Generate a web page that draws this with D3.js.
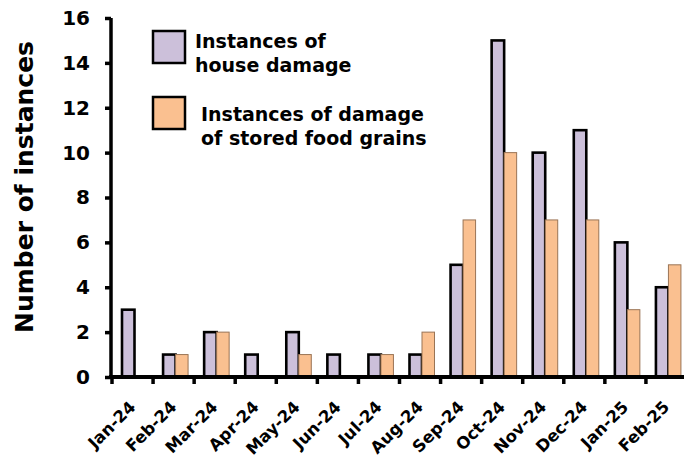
<!DOCTYPE html>
<html>
<head>
<meta charset="utf-8">
<script src="https://cdn.jsdelivr.net/npm/d3@7"></script>
<style>
  body { margin: 0; background: #fff; }
  text { font-family: "DejaVu Sans", Verdana, sans-serif; font-weight: bold; }
</style>
</head>
<body>
<svg id="chart" width="684" height="459"></svg>
<script>
const months = ['Jan-24','Feb-24','Mar-24','Apr-24','May-24','Jun-24','Jul-24','Aug-24',
                'Sep-24','Oct-24','Nov-24','Dec-24','Jan-25','Feb-25'];
const houseDamage = [3, 1, 2, 1, 2, 1, 1, 1, 5, 15, 10, 11, 6, 4];
const grainDamage = [0, 1, 2, 0, 1, 0, 1, 2, 7, 10, 7, 7, 3, 5];
const seriesNames = ['house', 'grain'];
const yTicks = [0, 2, 4, 6, 8, 10, 12, 14, 16];

const svg = d3.select('#chart');
const colors = { house: '#ccc0da', grain: '#fac090' };
const strokes = { house: '#000', grain: '#9a7455' };
const strokeW = { house: 2.6, grain: 1 };

const x = d3.scaleBand().domain(months).range([112, 687]);
const xs = d3.scaleBand().domain(seriesNames).range([10, 35]);
const y = d3.scaleLinear().domain([0, 16]).range([377, 18]);

const rows = months.map((m, i) => ({ month: m, house: houseDamage[i], grain: grainDamage[i] }));

// bars
const g = svg.append('g');
rows.forEach(r => {
  seriesNames.forEach(s => {
    if (r[s] === 0) return;
    g.append('rect')
      .attr('x', x(r.month) + xs(s))
      .attr('y', y(r[s]))
      .attr('width', xs.bandwidth())
      .attr('height', y(0) - y(r[s]))
      .attr('fill', colors[s])
      .attr('stroke', strokes[s])
      .attr('stroke-width', strokeW[s]);
  });
});

// y axis
const yAxis = svg.append('g')
  .attr('transform', 'translate(111,0)')
  .call(d3.axisLeft(y).tickValues(yTicks).tickSize(6).tickSizeOuter(0).tickPadding(15));
yAxis.select('.domain').attr('stroke-width', 3.5).attr('d', `M0,${y(16)}V${y(0) + 2}`);
yAxis.selectAll('.tick line').attr('stroke-width', 3.5);
yAxis.selectAll('.tick text').attr('font-size', 20).attr('fill', '#000');

// x axis line and ticks at category boundaries
svg.append('line')
  .attr('x1', 109).attr('x2', 684)
  .attr('y1', y(0)).attr('y2', y(0))
  .attr('stroke', '#000').attr('stroke-width', 4);
months.forEach(m => {
  const bx = x(m);
  svg.append('line')
    .attr('x1', bx).attr('x2', bx)
    .attr('y1', y(0)).attr('y2', y(0) + 7)
    .attr('stroke', '#000').attr('stroke-width', 3.5);
});

// x labels
months.forEach(m => {
  const cx = x(m) + x.bandwidth() / 2 + 4;
  svg.append('text')
    .attr('transform', `translate(${cx},408) rotate(-45)`)
    .attr('text-anchor', 'end')
    .attr('font-size', 16.5)
    .text(m);
});

// y title
svg.append('text')
  .attr('transform', 'translate(33,187) rotate(-90)')
  .attr('text-anchor', 'middle')
  .attr('font-size', 25)
  .text('Number of instances');

// legend
const legend = [
  { key: 'house', y: 31, tx: 195, lines: ['Instances of', 'house damage'], ty: 48 },
  { key: 'grain', y: 97, tx: 201, lines: ['Instances of damage', 'of stored food grains'], ty: 121 }
];
legend.forEach(l => {
  svg.append('rect')
    .attr('x', 153).attr('y', l.y)
    .attr('width', 32).attr('height', 32)
    .attr('fill', colors[l.key])
    .attr('stroke', '#000').attr('stroke-width', 2.5);
  l.lines.forEach((t, i) => {
    svg.append('text')
      .attr('x', l.tx).attr('y', l.ty + i * 23.5)
      .attr('font-size', 19)
      .text(t);
  });
});
</script>
</body>
</html>
